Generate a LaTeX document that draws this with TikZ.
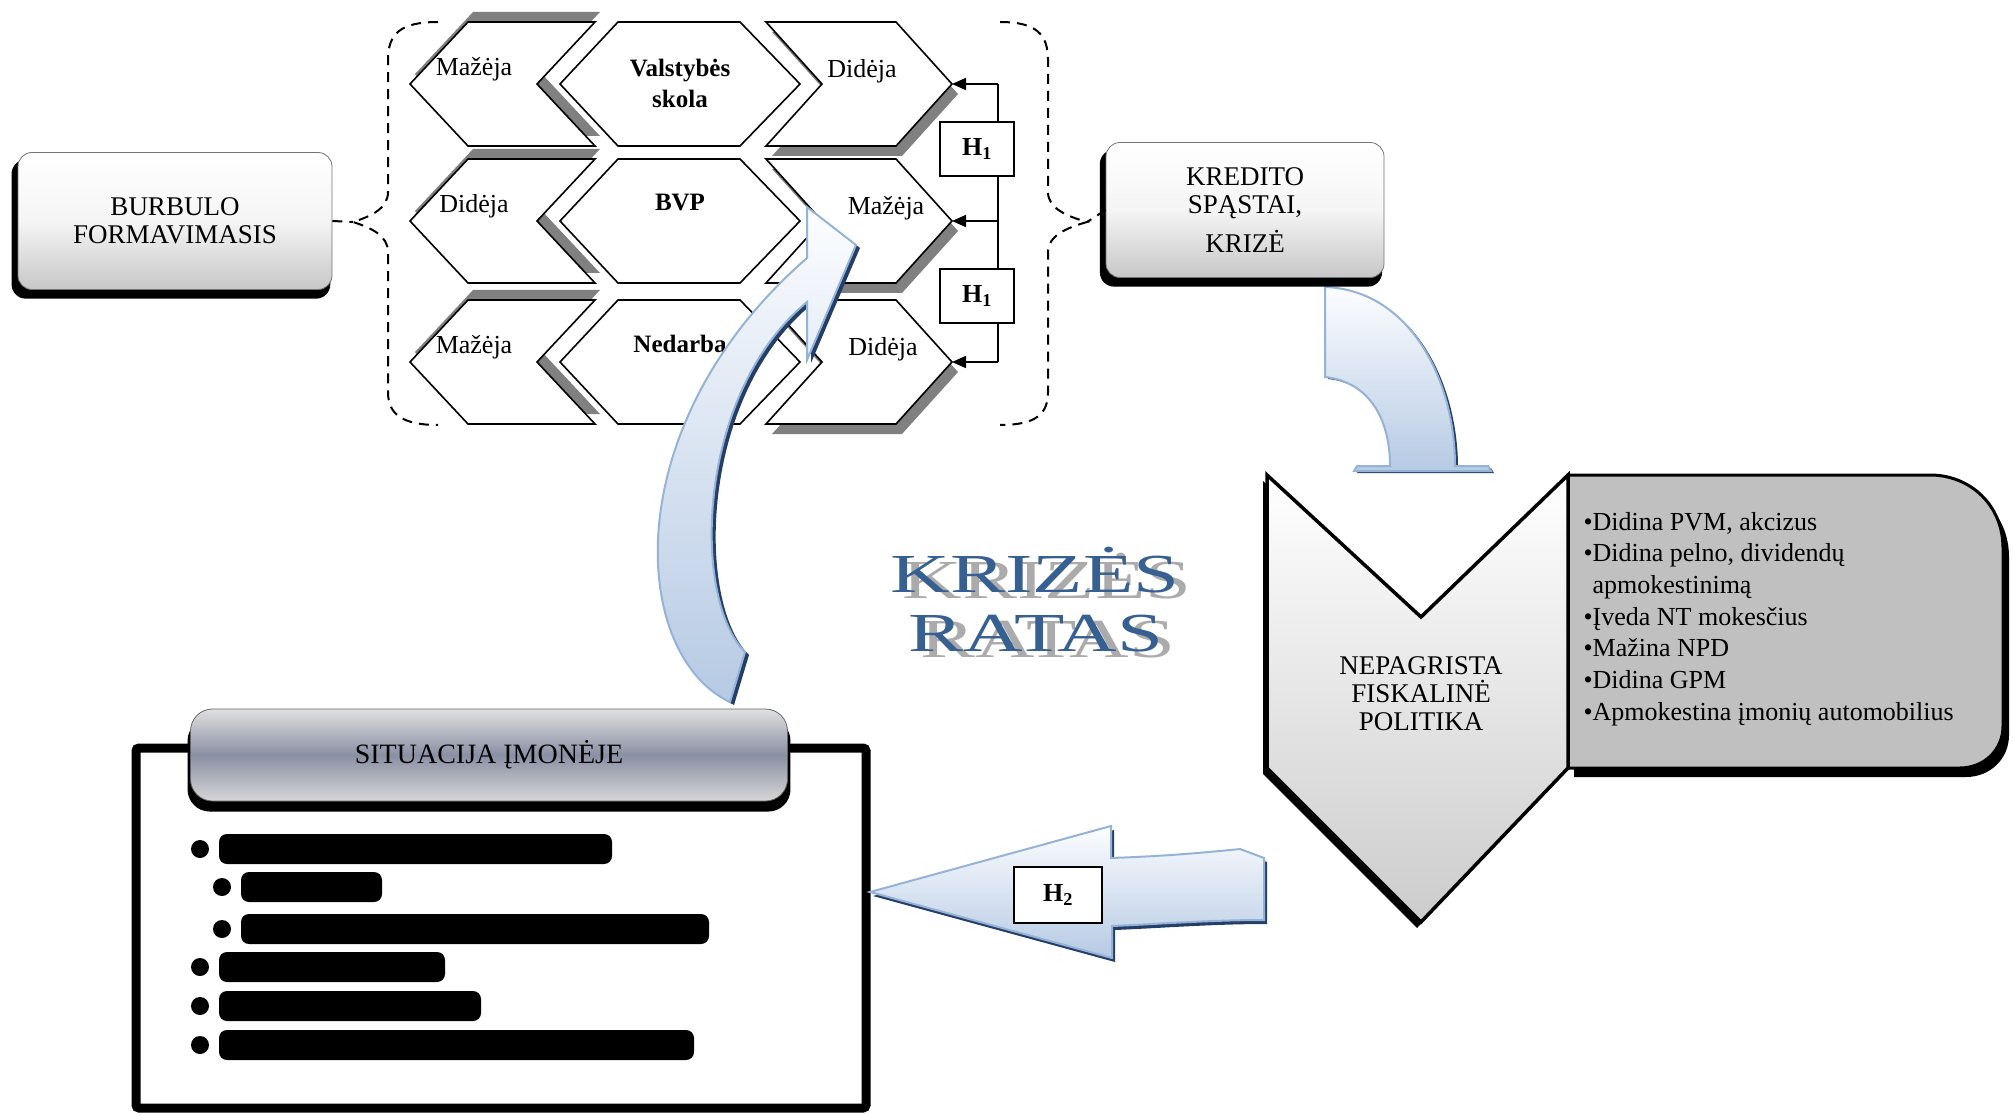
\documentclass[tikz,border=0pt]{standalone}
\usepackage{fontspec}
\setmainfont{Liberation Serif}
\newfontfamily\plataus[FakeStretch=1.5]{Liberation Serif}
\usetikzlibrary{arrows.meta,shadows}

\definecolor{rodline}{RGB}{149,179,215}
\definecolor{rodtop}{RGB}{252,253,255}
\definecolor{rodbot}{RGB}{182,202,228}
\definecolor{roddark}{RGB}{36,62,104}
\definecolor{ratas}{RGB}{54,96,146}
\definecolor{pilka}{RGB}{192,192,192}
\definecolor{metal}{RGB}{138,144,164}

\tikzset{
  hexline/.style={draw=black, line width=1.6pt, fill=white},
  hexshade/.style={fill=black!50},
  hextext/.style={font=\fontsize{26}{30}\selectfont},
  hexbold/.style={font=\bfseries\fontsize{25}{31}\selectfont, align=center},
  hbox/.style={draw, line width=1.6pt, fill=white, minimum width=74pt, minimum height=54pt, inner sep=0pt, font=\bfseries\fontsize{26}{30}\selectfont},
  dashline/.style={line width=2pt, dash pattern=on 10pt off 7pt},
  glossbox/.style={rounded corners=14pt, top color=white, bottom color=black!22, middle color=black!4, draw=black!55, line width=0.8pt, align=center, font=\fontsize{27}{28}\selectfont, drop shadow={fill=black, opacity=1, shadow xshift=-4pt, shadow yshift=-8pt, shadow scale=1.015}},
  rodykle/.style={draw=rodline, line width=2pt, top color=rodtop, bottom color=rodbot},
  rodshade/.style={fill=roddark},
}

\begin{document}
\begin{tikzpicture}[x=1pt, y=-1pt]
    \useasboundingbox (0,0) rectangle (2013,1115);

    % Rodykle nuo krizes (matosi tik virsus)
    \fill[rodshade, shift={(3,2)}] (1325,287) .. controls (1410,290) and (1455,380) .. (1455,466) -- (1488,466) -- (1491,471) -- (1354,471) -- (1357,466) -- (1390,466) .. controls (1390,420) and (1370,382) .. (1325,377) -- cycle;
    \draw[rodykle] (1325,287) .. controls (1410,290) and (1455,380) .. (1455,466) -- (1488,466) -- (1491,471) -- (1354,471) -- (1357,466) -- (1390,466) .. controls (1390,420) and (1370,382) .. (1325,377) -- cycle;

    % Skliaustai
    \coordinate (lbr) at (353,222);
    \coordinate (rbr) at (1087,222);
    \draw[dashline] (438,22) .. controls (400,22) and (388,34) .. (388,60) -- (388,192) .. controls (388,208) and (372,216) .. (lbr) .. controls (372,228) and (388,236) .. (388,252) -- (388,392) .. controls (388,414) and (402,425) .. (438,425);
    \draw[dashline] (1000,22) .. controls (1036,22) and (1048,34) .. (1048,60) -- (1048,192) .. controls (1048,208) and (1066,216) .. (rbr) .. controls (1066,228) and (1048,236) .. (1048,252) -- (1048,392) .. controls (1048,414) and (1036,425) .. (1000,425);

    % Langeliai
    \node[glossbox, minimum width=314pt, minimum height=137pt] (burb) at (175,221) {BURBULO\\FORMAVIMASIS};
    \node[glossbox, minimum width=278pt, minimum height=135pt] (kred) at (1245,210) {KREDITO\\SPĄSTAI,\\[11pt]KRIZĖ};
    \draw[dashline] (burb.east) -- (lbr);
    \draw[dashline] (kred.west) -- (rbr);

    % Sesiakampiai
    \foreach \y/\lt/\mt/\my/\rt/\rx in {84/Mažėja/{Valstybės\\skola}/1/Didėja/862, 221/Didėja/BVP/18/Mažėja/886, 362/Mažėja/Nedarba/18/Didėja/883} {
        \fill[hexshade, shift={(5,-10)}] (410,\y) -- (468,\y-62) -- (595,\y-62) -- (537,\y) -- (595,\y+62) -- (468,\y+62) -- cycle;
        \path[hexline] (410,\y) -- (468,\y-62) -- (595,\y-62) -- (537,\y) -- (595,\y+62) -- (468,\y+62) -- cycle;
        \path[hexline] (560,\y) -- (618,\y-62) -- (740,\y-62) -- (800,\y) -- (740,\y+62) -- (618,\y+62) -- cycle;
        \fill[hexshade, shift={(6,10)}] (766,\y-62) -- (896,\y-62) -- (952,\y) -- (896,\y+62) -- (766,\y+62) -- (822,\y) -- cycle;
        \path[hexline] (766,\y-62) -- (896,\y-62) -- (952,\y) -- (896,\y+62) -- (766,\y+62) -- (822,\y) -- cycle;
        \coordinate (p\y) at (952,\y);
        \node[hextext] (l\y) at (474,\y-15) {\lt};
        \node[hexbold] (m\y) at (680,\y-\my) {\mt};
        \node[hextext] (r\y) at (\rx,\y-13) {\rt};
    }

    % H1 jungtys
    \coordinate (bt) at (998,84);
    \coordinate (bm) at (998,221);
    \coordinate (bb) at (998,362);
    \draw[line width=1.6pt] (bt) -- (bb);
    \draw[line width=1.6pt, -{Triangle[length=14pt,width=12pt]}] (bt) -- (p84);
    \draw[line width=1.6pt, -{Triangle[length=14pt,width=12pt]}] (bm) -- (p221);
    \draw[line width=1.6pt, -{Triangle[length=14pt,width=12pt]}] (bb) -- (p362);
    \node[hbox] (h1a) at (977,149) {H\textsubscript{1}};
    \node[hbox] (h1b) at (977,296) {H\textsubscript{1}};

    % Didzioji rodykle aukstyn
    \fill[rodshade, shift={(4,3)}] (730,702) .. controls (630,655) and (615,425) .. (807,258) -- (807,207) -- (856,245) -- (807,360) -- (807,302) .. controls (695,395) and (692,600) .. (745,652) -- cycle;
    \draw[rodykle] (730,702) .. controls (630,655) and (615,425) .. (807,258) -- (807,207) -- (856,245) -- (807,360) -- (807,302) .. controls (695,395) and (692,600) .. (745,652) -- cycle;

    % Situacija imoneje
    \node[draw, line width=9pt, rounded corners=3pt, minimum width=730pt, minimum height=360pt, inner sep=0pt] (sit) at (501,928) {};
    \node[rounded corners=22pt, top color=black!12, bottom color=black!16, middle color=metal, draw=black!60, line width=0.8pt, minimum width=597pt, minimum height=92pt, font=\fontsize{28}{30}\selectfont, drop shadow={fill=black, opacity=1, shadow xshift=0pt, shadow yshift=-10pt, shadow scale=1.01}] (sithdr) at (489,755) {SITUACIJA ĮMONĖJE};
    \foreach \x/\y/\w in {219/849/393, 241/887/141, 241/929/468, 219/967/226, 219/1006/262, 219/1045/475} {
        \fill[rounded corners=8pt] (\x,\y-15) rectangle ++(\w,30);
        \fill (\x-19,\y) circle[radius=9pt];
    }

    % H2 rodykle
    \fill[rodshade, shift={(3,4)}] (870,892) -- (1111,826) -- (1111,858) .. controls (1170,856) and (1210,852) .. (1240,849) -- (1264,858) -- (1264,920) .. controls (1210,920) and (1160,924) .. (1112,926) -- (1112,958) -- cycle;
    \draw[rodykle] (870,892) -- (1111,826) -- (1111,858) .. controls (1170,856) and (1210,852) .. (1240,849) -- (1264,858) -- (1264,920) .. controls (1210,920) and (1160,924) .. (1112,926) -- (1112,958) -- cycle;
    \node[hbox, minimum width=88pt, minimum height=56pt] (h2) at (1058,895) {H\textsubscript{2}};

    % Fiskaline politika
    \fill[shift={(6,9)}] (1568,475) -- (1930,475) .. controls (1970,475) and (2003,505) .. (2003,548) -- (2003,726) .. controls (2003,750) and (1984,768) .. (1960,768) -- (1568,768) -- cycle;
    \draw[line width=3pt, fill=pilka] (1568,475) -- (1930,475) .. controls (1970,475) and (2003,505) .. (2003,548) -- (2003,726) .. controls (2003,750) and (1984,768) .. (1960,768) -- (1568,768) -- cycle;
    \fill[shift={(-4,6)}] (1267,475) -- (1421,617) -- (1568,475) -- (1568,768) -- (1421,922) -- (1267,768) -- cycle;
    \draw[line width=3.5pt, top color=white, bottom color=black!20] (1267,475) -- (1421,617) -- (1568,475) -- (1568,768) -- (1421,922) -- (1267,768) -- cycle;
    \node[font=\fontsize{27}{28}\selectfont, align=center] (nfp) at (1421,694) {NEPAGRISTA\\FISKALINĖ\\POLITIKA};
    \node[anchor=west, align=left, font=\fontsize{26}{31.7}\selectfont] (priem) at (1580,619) {\textbullet Didina PVM, akcizus\\
        \textbullet Didina pelno, dividendų\\
        \phantom{\textbullet}apmokestinimą\\
        \textbullet Įveda NT mokesčius\\
        \textbullet Mažina NPD\\
        \textbullet Didina GPM\\
        \textbullet Apmokestina įmonių automobilius};

    % Krizes ratas
    \node[anchor=base, font=\plataus\fontsize{55}{59}\selectfont, text=black!33] (kr2) at (1047,598) {KRIZĖS};
    \node[anchor=base, font=\plataus\fontsize{55}{59}\selectfont, text=black!33] (ra2) at (1048,657) {RATAS};
    \node[anchor=base, font=\plataus\fontsize{55}{59}\selectfont, text=ratas] (kr) at (1035,592) {KRIZĖS};
    \node[anchor=base, font=\plataus\fontsize{55}{59}\selectfont, text=ratas] (ra) at (1036,651) {RATAS};

\end{tikzpicture}
\end{document}
